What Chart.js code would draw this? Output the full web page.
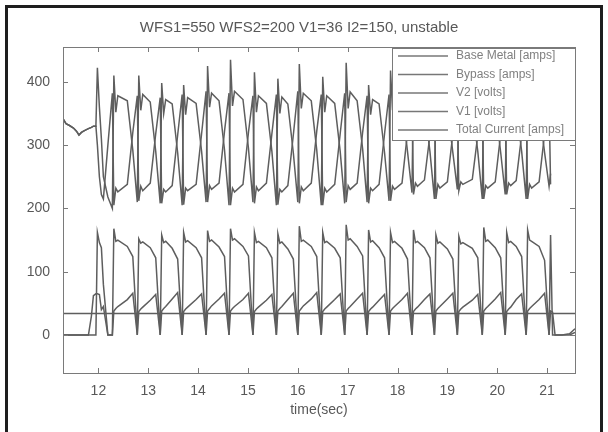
<!DOCTYPE html>
<html>
<head>
<meta charset="utf-8">
<script src="https://cdn.jsdelivr.net/npm/chart.js@4.4.1/dist/chart.umd.min.js"></script>
<style>
  body { margin: 0; background: #fff; }
  #wrap { position: relative; width: 608px; height: 432px; overflow: hidden; }
  #frame { position: absolute; left: 5px; top: 5px; width: 592px; height: 440px;
           border: 3px solid #1e1e1e; border-bottom: none; }
</style>
</head>
<body>
<div id="wrap">
  <canvas id="weldChart" width="608" height="432"></canvas>
  <div id="frame"></div>
</div>
<script>
// --- data ---
const chartTitle = 'WFS1=550 WFS2=200 V1=36 I2=150, unstable';
const xLabel = 'time(sec)';
const xTicks = [12, 13, 14, 15, 16, 17, 18, 19, 20, 21];
const yTicks = [0, 100, 200, 300, 400];

// shared time base (sec): lead-in, then one row per pulse cycle, then tail
const timeSec = [
  11.29, 11.35, 11.42, 11.50, 11.56, 11.61, 11.66, 11.72, 11.80, 11.86, 11.90,
  11.95, 11.98, 12.02, 12.06, 12.10, 12.19,
  12.28, 12.31, 12.35, 12.39, 12.58, 12.69,
  12.78, 12.81, 12.85, 12.89, 13.04, 13.15,
  13.24, 13.27, 13.31, 13.35, 13.48, 13.59,
  13.68, 13.71, 13.75, 13.79, 13.96, 14.07,
  14.16, 14.19, 14.23, 14.27, 14.42, 14.53,
  14.62, 14.65, 14.69, 14.73, 14.90, 15.01,
  15.10, 15.13, 15.17, 15.21, 15.37, 15.48,
  15.57, 15.60, 15.64, 15.68, 15.80, 15.91,
  16.00, 16.03, 16.07, 16.11, 16.27, 16.38,
  16.47, 16.50, 16.54, 16.58, 16.74, 16.85,
  16.94, 16.97, 17.01, 17.05, 17.19, 17.30,
  17.39, 17.42, 17.46, 17.50, 17.63, 17.74,
  17.83, 17.86, 17.90, 17.94, 18.09, 18.20,
  18.29, 18.32, 18.36, 18.40, 18.54, 18.65,
  18.74, 18.77, 18.81, 18.85, 19.00, 19.11,
  19.20, 19.23, 19.27, 19.31, 19.50, 19.61,
  19.70, 19.73, 19.77, 19.81, 19.96, 20.07,
  20.16, 20.19, 20.23, 20.27, 20.38, 20.49,
  20.58, 20.61, 20.65, 20.69, 20.84, 20.95,
  21.04, 21.07, 21.11,
  21.16, 21.30, 21.45, 21.56
];

const baseMetal = [
  342, 334, 331, 327, 322, 316, 320, 323, 326, 328, 330,
  330, 300, 250, 222, 215, 300,
  382, 205, 232, 226, 238, 320,
  378, 212, 235, 228, 240, 318,
  375, 208, 230, 226, 236, 316,
  380, 206, 232, 228, 238, 318,
  385, 210, 236, 230, 240, 322,
  382, 205, 232, 226, 238, 320,
  378, 208, 234, 228, 240, 318,
  380, 206, 230, 226, 236, 316,
  385, 208, 234, 228, 240, 322,
  380, 205, 232, 226, 238, 318,
  382, 210, 236, 230, 240, 320,
  378, 208, 232, 228, 238, 318,
  380, 212, 235, 230, 240, 320,
  375, 222, 240, 235, 245, 316,
  378, 215, 238, 232, 242, 318,
  375, 228, 242, 238, 246, 316,
  378, 215, 236, 232, 242, 318,
  375, 222, 240, 236, 244, 316,
  378, 215, 238, 232, 242, 318,
  372, 238, null,
  null, null, null, null
];

const bypass = [
  0, 0, 0, 0, 0, 0, 0, 0, 0, 0, 0,
  0, 162, 146, 138, 80, 0,
  0, 168, 148, 150, 140, 124,
  0, 152, 145, 147, 138, 122,
  0, 158, 146, 148, 137, 120,
  0, 162, 147, 149, 138, 122,
  0, 165, 148, 150, 139, 124,
  0, 168, 150, 152, 140, 125,
  0, 162, 146, 148, 138, 122,
  0, 160, 145, 147, 136, 120,
  0, 172, 148, 150, 140, 124,
  0, 162, 146, 148, 137, 122,
  0, 174, 150, 152, 140, 125,
  0, 166, 147, 149, 138, 122,
  0, 162, 146, 148, 137, 120,
  0, 166, 146, 148, 138, 122,
  0, 158, 145, 147, 136, 120,
  0, 156, 144, 146, 137, 122,
  0, 170, 148, 150, 138, 122,
  0, 162, 146, 148, 140, 124,
  0, 166, 150, 148, 140, 118,
  0, 158, 0,
  0, 0, 2, 10
];

const v2Volts = [
  0, 0, 0, 0, 0, 0, 0, 0, 0, 30, 62,
  65, 65, 64, 40, 45, 0,
  0, 38, 42, 45, 56, 66,
  0, 37, 41, 44, 55, 64,
  0, 38, 42, 45, 57, 67,
  0, 37, 41, 44, 56, 65,
  0, 38, 42, 46, 57, 66,
  0, 38, 42, 45, 56, 66,
  0, 37, 41, 44, 55, 64,
  0, 38, 42, 45, 56, 66,
  0, 38, 42, 46, 57, 67,
  0, 37, 41, 44, 56, 65,
  0, 38, 42, 45, 57, 66,
  0, 37, 41, 44, 55, 64,
  0, 38, 42, 45, 56, 66,
  0, 37, 41, 44, 56, 65,
  0, 38, 42, 45, 57, 66,
  0, 37, 41, 44, 55, 64,
  0, 38, 42, 45, 57, 67,
  0, 37, 41, 44, 56, 65,
  0, 38, 42, 45, 56, 66,
  0, 38, 36,
  0, 0, 0, 4
];

const v1Time = [11.29, 21.56];
const v1Volts = [34, 34];

const totalCurrent = [
  342, 334, 331, 327, 322, 316, 320, 323, 326, 328, 330,
  330, 422, 360, 310, 250, 218,
  200, 410, 352, 378, 370, 292,
  210, 410, 355, 380, 368, 290,
  208, 398, 350, 372, 365, 288,
  205, 395, 348, 375, 366, 290,
  210, 425, 360, 382, 370, 292,
  205, 435, 362, 385, 372, 295,
  210, 415, 352, 378, 366, 290,
  205, 405, 350, 376, 365, 288,
  210, 428, 358, 382, 370, 292,
  205, 408, 352, 378, 366, 290,
  208, 430, 358, 384, 370, 294,
  210, 395, 348, 372, 365, 288,
  212, 418, 355, 378, 366, 290,
  225, 405, 352, 376, 362, 290,
  215, 400, 350, 374, 360, 288,
  230, 395, 348, 372, 360, 290,
  215, 405, 350, 375, 362, 288,
  222, 400, 350, 372, 360, 290,
  215, 400, 350, 372, 360, 288,
  235, 255, null,
  null, null, null, null
];

const seriesNames = ['Base Metal [amps]', 'Bypass [amps]', 'V2 [volts]', 'V1 [volts]', 'Total Current [amps]'];

function pts(xs, ys) {
  return xs.map((x, i) => ({ x: x, y: ys[i] }));
}

const lineGray = '#5e5e5e';
const axisGray = '#7a7a7a';
const textGray = '#585858';
const fontFam = '"Liberation Sans", Arial, Helvetica, sans-serif';

// --- MATLAB-like box, inward ticks, legend, title ---
const matlabAxes = {
  id: 'matlabAxes',
  afterDatasetsDraw(chart) {
    const c = chart.ctx;
    const a = chart.chartArea;
    const sx = chart.scales.x, sy = chart.scales.y;
    c.save();
    c.strokeStyle = axisGray;
    c.lineWidth = 1;
    c.strokeRect(a.left + 0.5, a.top + 0.5, a.right - a.left, a.bottom - a.top);
    c.beginPath();
    xTicks.forEach(v => {
      const px = Math.round(sx.getPixelForValue(v)) + 0.5;
      c.moveTo(px, a.bottom); c.lineTo(px, a.bottom - 5);
      c.moveTo(px, a.top); c.lineTo(px, a.top + 5);
    });
    yTicks.forEach(v => {
      const py = Math.round(sy.getPixelForValue(v)) + 0.5;
      c.moveTo(a.left, py); c.lineTo(a.left + 5, py);
      c.moveTo(a.right, py); c.lineTo(a.right - 5, py);
    });
    c.stroke();

    // legend box in the top right corner
    const lx = 392, ly = a.top + 1, lw = a.right - 392, lh = 92;
    c.fillStyle = '#fff';
    c.fillRect(lx, ly, lw, lh);
    c.strokeRect(lx + 0.5, ly + 0.5, lw, lh);
    c.font = '12px ' + fontFam;
    c.textBaseline = 'middle';
    chart.data.datasets.forEach((ds, i) => {
      const ry = ly + 8 + i * 18.5;
      c.strokeStyle = '#777';
      c.lineWidth = 1.4;
      c.beginPath();
      c.moveTo(lx + 6, ry); c.lineTo(lx + 56, ry);
      c.stroke();
      c.fillStyle = '#808080';
      c.fillText(ds.label, lx + 64, ry);
    });

    // title and x label
    c.fillStyle = textGray;
    c.textAlign = 'center';
    c.font = '15px ' + fontFam;
    c.fillText(chartTitle, 299, 28);
    c.font = '14px ' + fontFam;
    c.fillText(xLabel, (a.left + a.right) / 2, 410);
    c.restore();
  }
};

const lineSet = (label, data) => ({
  label: label,
  data: data,
  borderColor: lineGray,
  borderWidth: 1.5,
  pointRadius: 0,
  tension: 0,
  fill: false,
  spanGaps: false
});

new Chart(document.getElementById('weldChart').getContext('2d'), {
  type: 'line',
  data: {
    datasets: [
      lineSet(seriesNames[0], pts(timeSec, baseMetal)),
      lineSet(seriesNames[1], pts(timeSec, bypass)),
      lineSet(seriesNames[2], pts(timeSec, v2Volts)),
      lineSet(seriesNames[3], pts(v1Time, v1Volts)),
      lineSet(seriesNames[4], pts(timeSec, totalCurrent))
    ]
  },
  options: {
    responsive: false,
    animation: false,
    layout: { padding: { top: 47, right: 33, left: 0, bottom: 0 } },
    plugins: { legend: { display: false }, tooltip: { enabled: false }, title: { display: false } },
    scales: {
      x: {
        type: 'linear', min: 11.29, max: 21.56,
        grid: { display: false }, border: { display: false },
        afterBuildTicks: s => { s.ticks = xTicks.map(v => ({ value: v })); },
        afterFit: s => { s.height = 59; },
        ticks: { color: textGray, font: { size: 14, family: fontFam }, padding: 2, maxRotation: 0, autoSkip: false }
      },
      y: {
        type: 'linear', min: -60, max: 455,
        grid: { display: false }, border: { display: false },
        afterBuildTicks: s => { s.ticks = yTicks.map(v => ({ value: v })); },
        afterFit: s => { s.width = 63; },
        ticks: { color: textGray, font: { size: 14, family: fontFam }, padding: 5 }
      }
    }
  },
  plugins: [matlabAxes]
});
</script>
</body>
</html>
